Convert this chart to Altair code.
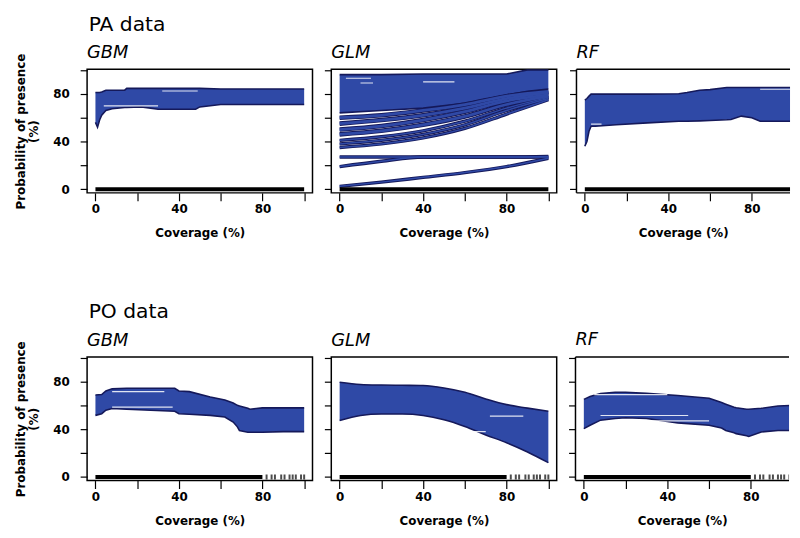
import altair as alt
import pandas as pd

BLUE = "#2f49a6"
NAVY = "#15195a"
FONT = "DejaVu Sans"

# ---------------- PA data ----------------
pa_gbm_x = [0, 1, 2, 3, 5, 8, 14, 15, 22, 30, 48, 50, 60, 100]
pa_gbm_up = [81, 81, 81, 81.5, 83, 83, 83, 84.5, 84.5, 84.5, 84.5, 84.5, 84, 84]
pa_gbm_lo = [56, 52, 58, 62, 66, 67.5, 68.5, 68.5, 69, 67, 67, 69, 71, 71]

pa_glm_x = [0, 20, 40, 60, 80, 90, 100]
pa_glm_up = [96, 96, 96.5, 96.5, 96.5, 100, 100]
pa_glm_lo = [64, 66, 68, 72, 79, 82, 84]

pa_rf_x = [0, 1, 2, 3, 5, 15, 30, 45, 49, 55, 60, 68, 70, 75, 80, 84, 100]
pa_rf_up = [74.6, 76, 78, 79.7, 79.7, 79.7, 79.7, 80, 81, 83, 83.5, 85.3, 85.3, 85.3, 85.3, 85.3, 85.3]
pa_rf_lo = [36, 40, 48.6, 52.8, 52.8, 54, 55.6, 57, 57, 57.3, 57.6, 58.2, 58.5, 61.3, 60, 57, 57]

# GLM (PA) individual response curves below the main block
glm_curve_x = [0, 20, 40, 60, 80, 100]
glm_c1 = [60, 62, 66, 71, 78, 82]
glm_c2 = [55, 58, 62, 68, 76, 81]
glm_c3 = [50, 53, 58, 65, 74, 79]
glm_c4 = [46, 49, 54, 61, 71, 78]
glm_c5 = [41, 44, 49, 57, 68, 77]
glm_c6 = [38, 41, 46, 54, 66, 76]
glm_c7 = [35, 38, 43, 51, 63, 75]
glm_c8 = [27, 27, 27, 27, 27, 27.5]
glm_c9 = [19, 23.5, 27, 27, 27, 27]
glm_c10 = [2.5, 6, 10, 14, 19, 26]

# ---------------- PO data ----------------
po_gbm_x = [0, 3, 5, 8, 15, 38, 40, 45, 55, 62, 66, 68, 69, 73, 74, 80, 90, 100]
po_gbm_up = [68.6, 69, 72, 73.8, 74.3, 74.3, 72, 71.5, 67, 64.4, 62, 60, 59.5, 57.5, 56.7, 57.9, 57.9, 57.9]
po_gbm_lo = [51.6, 53, 55.9, 57.3, 56.7, 55, 53, 52.5, 51.6, 50.2, 46, 42, 38.9, 37.4, 37.4, 37.4, 38, 38]

po_glm_x = [0, 10, 20, 30, 40, 50, 60, 70, 80, 90, 100]
po_glm_up = [79.4, 77.5, 77, 76.8, 76.6, 74.6, 71, 65.4, 60.6, 57.7, 55]
po_glm_lo = [47.3, 51.5, 52.7, 52.7, 51.5, 47.9, 42.3, 35.2, 28.7, 21, 12]

po_rf_x = [0, 3, 8, 15, 20, 30, 45, 60, 66, 68, 72, 73, 78, 79, 85, 93, 100]
po_rf_up = [65, 67.4, 70, 71, 71, 70, 68.3, 66, 62.3, 61, 58.4, 58, 56.7, 56.7, 57.5, 59.5, 60]
po_rf_lo = [40.5, 43.3, 47.6, 49, 49.6, 49, 45.3, 43.3, 41, 39, 37, 36.3, 34.5, 34, 37.7, 39, 39]

# white gaps inside the bands (segments: x0, x1, y)
pa_gbm_gaps = [(32, 49, 82.3), (4, 30, 69.8)]
pa_glm_gaps = [(3, 15, 93), (10, 16, 89), (40, 55, 90)]
pa_rf_gaps = [(84, 100, 83.8), (3, 8, 54.5)]
po_gbm_gaps = [(8, 33, 71.5), (8, 37, 58.5)]
po_glm_gaps = [(72, 88, 51), (60, 70, 38)]
po_rf_gaps = [(5, 40, 69), (8, 50, 51.5), (30, 60, 47)]

# rug
pa_rug_end = 100
po_rug_end = 80
po_rug_ticks = [82, 84.4, 86, 89, 90.6, 93, 94.5, 96, 98.5, 100]

tick_vals = [0, 20, 40, 60, 80, 100]
shown = "datum.value == 0 || datum.value == 40 || datum.value == 80 ? datum.label : ''"

PW = 228      # panel plot width
PW3 = 216     # third panel is cut by the page edge
PH = 125
yscale = alt.Scale(domain=[-3, 100.5], nice=False, zero=False)


def xaxis(cut):
    vals = [v for v in tick_vals if v < 100] if cut else tick_vals
    return alt.Axis(values=vals, labelExpr=shown, title="Coverage (%)", grid=False,
                    domain=False, tickSize=8, tickColor="black", tickWidth=1.2,
                    labelPadding=3, titlePadding=13, labelFlush=False, labelOverlap=False)


def yaxis(first):
    if first:
        return alt.Axis(values=tick_vals, labelExpr=shown, grid=False, domain=False,
                        title=["Probability of presence", "(%)"], tickSize=7,
                        tickColor="black", tickWidth=1.2, labelPadding=11,
                        titlePadding=12, labelOverlap=False)
    return alt.Axis(values=tick_vals, labels=False, grid=False, domain=False, title=None,
                    tickSize=7, tickColor="black", tickWidth=1.2)


def panel(bx, bup, blo, gaps, rug_end, rug_ticks, model, first,
          curves=None, interp="linear", cut=False):
    w = PW3 if cut else PW
    xmax = -4 + 108 * w / PW
    xscale = alt.Scale(domain=[-4, xmax], nice=False, zero=False)
    X = alt.X("x:Q", scale=xscale, axis=xaxis(cut))

    def Y(f):
        return alt.Y(f + ":Q", scale=yscale, axis=yaxis(first))

    band = pd.DataFrame({"x": bx, "up": bup, "lo": blo})
    layers = [
        alt.Chart(band).mark_area(color=BLUE, interpolate=interp, clip=True).encode(x=X, y=Y("lo"), y2="up:Q"),
        alt.Chart(band).mark_line(color=NAVY, strokeWidth=1.6, interpolate=interp, clip=True).encode(x=X, y=Y("up")),
        alt.Chart(band).mark_line(color=NAVY, strokeWidth=1.6, interpolate=interp, clip=True).encode(x=X, y=Y("lo")),
    ]
    if curves:
        rows = []
        for i, c in enumerate(curves):
            for xv, yv in zip(glm_curve_x, c):
                rows.append({"x": xv, "y": yv, "c": i, "wide": i < 4})
        cdf = pd.DataFrame(rows)
        layers.append(alt.Chart(cdf).mark_line(color=NAVY, interpolate="monotone")
                      .encode(x=X, y=Y("y"), detail="c:N",
                              strokeWidth=alt.condition("datum.wide", alt.value(4.6), alt.value(3.4))))
        layers.append(alt.Chart(cdf).mark_line(color=BLUE, interpolate="monotone")
                      .encode(x=X, y=Y("y"), detail="c:N",
                              strokeWidth=alt.condition("datum.wide", alt.value(2.8), alt.value(1.5))))
    grows = []
    for i, (x0, x1, yv) in enumerate(gaps):
        grows.append({"x": x0, "y": yv, "g": i})
        grows.append({"x": x1, "y": yv, "g": i})
    gdf = pd.DataFrame(grows)
    layers.append(alt.Chart(gdf).mark_line(color="white", strokeWidth=1.2, opacity=0.85, clip=True)
                  .encode(x=X, y=Y("y"), detail="g:N"))
    rug = pd.DataFrame({"x": [0], "x2": [rug_end], "y": [0]})
    layers.append(alt.Chart(rug).mark_rule(color="black", strokeWidth=4, clip=True)
                  .encode(x=X, x2="x2:Q", y=Y("y")))
    if rug_ticks:
        tdf = pd.DataFrame({"x": rug_ticks, "y": [0] * len(rug_ticks)})
        layers.append(alt.Chart(tdf).mark_tick(color="black", orient="vertical", size=5, thickness=2, clip=True)
                      .encode(x=X, y=Y("y")))
    if cut:
        # frame: top, left and bottom edges (the right edge lies beyond the page)
        frame = alt.Chart(band.head(1))
        layers.append(frame.mark_rule(color="black", strokeWidth=1.5)
                      .encode(x=alt.value(0), x2=alt.value(w), y=alt.value(0)))
        layers.append(frame.mark_rule(color="black", strokeWidth=1.5)
                      .encode(x=alt.value(0), x2=alt.value(w), y=alt.value(PH)))
        layers.append(frame.mark_rule(color="black", strokeWidth=1.5)
                      .encode(x=alt.value(0), y=alt.value(0), y2=alt.value(PH)))
    title = alt.TitleParams(text=model, anchor="start", frame="group", fontSize=18, font=FONT,
                            fontWeight="normal", fontStyle="italic", color="black",
                            offset=-9 if first else 7)
    ch = alt.layer(*layers).properties(width=w, height=PH, title=title)
    if cut:
        ch = ch.properties(view=alt.ViewBackground(stroke="transparent"))
    return ch


def row_title(text):
    return alt.TitleParams(text=text, anchor="start", dx=76, fontSize=20.5, font=FONT,
                           fontWeight="normal", color="black", offset=8)


row1 = alt.hconcat(
    panel(pa_gbm_x, pa_gbm_up, pa_gbm_lo, pa_gbm_gaps, pa_rug_end, None, "GBM", True),
    panel(pa_glm_x, pa_glm_up, pa_glm_lo, pa_glm_gaps, pa_rug_end, None, "GLM", False,
          curves=[glm_c1, glm_c2, glm_c3, glm_c4, glm_c5, glm_c6, glm_c7, glm_c8, glm_c9, glm_c10]),
    panel(pa_rf_x, pa_rf_up, pa_rf_lo, pa_rf_gaps, pa_rug_end, None, "RF", False, cut=True),
    spacing=9,
).properties(title=row_title("PA data"))
row2 = alt.hconcat(
    panel(po_gbm_x, po_gbm_up, po_gbm_lo, po_gbm_gaps, po_rug_end, po_rug_ticks, "GBM", True),
    panel(po_glm_x, po_glm_up, po_glm_lo, po_glm_gaps, po_rug_end, po_rug_ticks, "GLM", False,
          interp="monotone"),
    panel(po_rf_x, po_rf_up, po_rf_lo, po_rf_gaps, po_rug_end, po_rug_ticks, "RF", False, cut=True),
    spacing=9,
).properties(title=row_title("PO data"))

chart = alt.vconcat(row1, row2, spacing=64).configure_view(
    stroke="black", strokeWidth=1.5
).configure_axis(
    labelFont=FONT, labelFontWeight="bold", labelFontSize=12, labelColor="black",
    titleFont=FONT, titleFontWeight="bold", titleFontSize=12, titleColor="black",
).properties(padding={"left": 5, "top": 4, "right": 0, "bottom": 0}, background="white")

chart.save("out.html", embed_options={"renderer": "svg", "actions": False})
